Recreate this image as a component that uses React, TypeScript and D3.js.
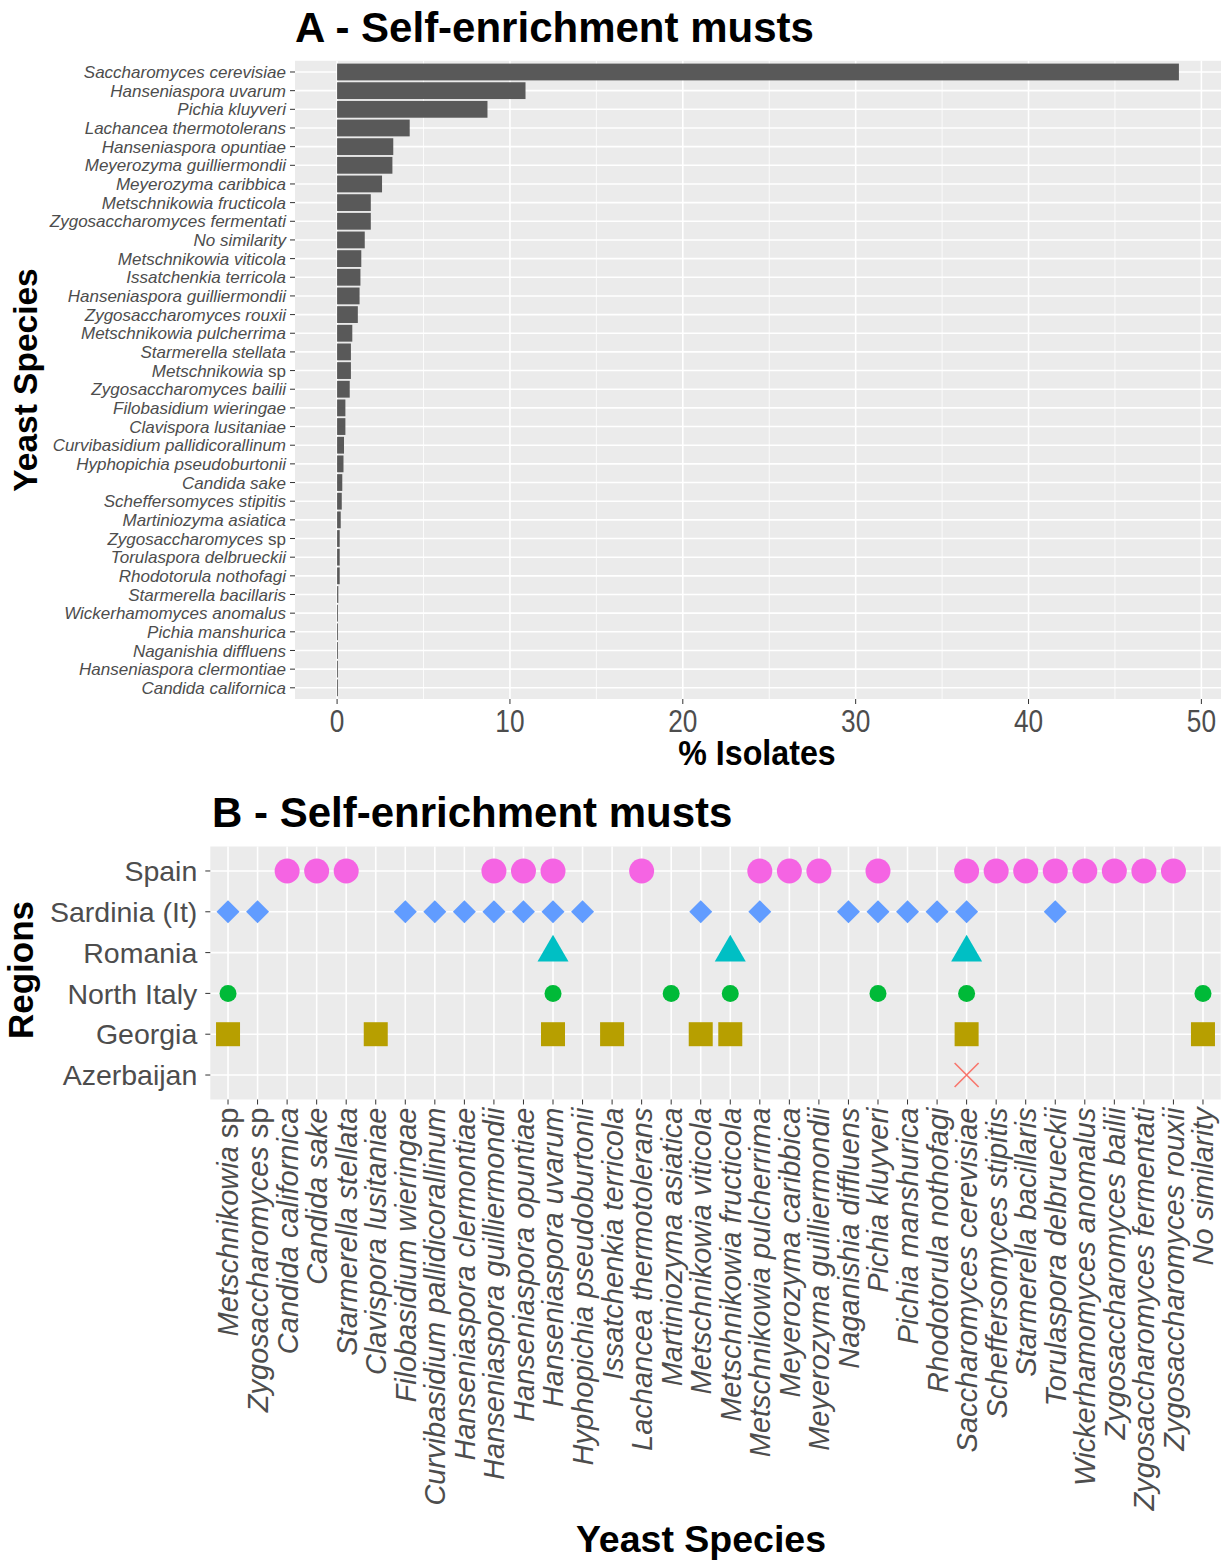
import * as d3 from "d3";

// Panel A — ordered as plotted, top to bottom
const speciesA = [
  "Saccharomyces cerevisiae", "Hanseniaspora uvarum", "Pichia kluyveri", "Lachancea thermotolerans",
  "Hanseniaspora opuntiae", "Meyerozyma guilliermondii", "Meyerozyma caribbica", "Metschnikowia fructicola",
  "Zygosaccharomyces fermentati", "No similarity", "Metschnikowia viticola", "Issatchenkia terricola",
  "Hanseniaspora guilliermondii", "Zygosaccharomyces rouxii", "Metschnikowia pulcherrima", "Starmerella stellata",
  "Metschnikowia sp", "Zygosaccharomyces bailii", "Filobasidium wieringae", "Clavispora lusitaniae",
  "Curvibasidium pallidicorallinum", "Hyphopichia pseudoburtonii", "Candida sake", "Scheffersomyces stipitis",
  "Martiniozyma asiatica", "Zygosaccharomyces sp", "Torulaspora delbrueckii", "Rhodotorula nothofagi",
  "Starmerella bacillaris", "Wickerhamomyces anomalus", "Pichia manshurica", "Naganishia diffluens",
  "Hanseniaspora clermontiae", "Candida californica",
];
const pctIsolates = [
  48.7, 10.9, 8.7, 4.2, 3.25, 3.2, 2.6, 1.95, 1.95, 1.6, 1.4, 1.35, 1.3, 1.2, 0.88, 0.8, 0.8,
  0.73, 0.48, 0.48, 0.4, 0.37, 0.3, 0.27, 0.21, 0.15, 0.15, 0.15, 0.07, 0.05, 0.05, 0.05, 0.05, 0.05,
];
const xTicksA = [0, 10, 20, 30, 40, 50];
const xMinorA = [5, 15, 25, 35, 45];

// Panel B — x order as plotted, left to right
const speciesB = [
  "Metschnikowia sp", "Zygosaccharomyces sp", "Candida californica", "Candida sake", "Starmerella stellata",
  "Clavispora lusitaniae", "Filobasidium wieringae", "Curvibasidium pallidicorallinum", "Hanseniaspora clermontiae",
  "Hanseniaspora guilliermondii", "Hanseniaspora opuntiae", "Hanseniaspora uvarum", "Hyphopichia pseudoburtonii",
  "Issatchenkia terricola", "Lachancea thermotolerans", "Martiniozyma asiatica", "Metschnikowia viticola",
  "Metschnikowia fructicola", "Metschnikowia pulcherrima", "Meyerozyma caribbica", "Meyerozyma guilliermondii",
  "Naganishia diffluens", "Pichia kluyveri", "Pichia manshurica", "Rhodotorula nothofagi",
  "Saccharomyces cerevisiae", "Scheffersomyces stipitis", "Starmerella bacillaris", "Torulaspora delbrueckii",
  "Wickerhamomyces anomalus", "Zygosaccharomyces bailii", "Zygosaccharomyces fermentati",
  "Zygosaccharomyces rouxii", "No similarity",
];
const regions = ["Spain", "Sardinia (It)", "Romania", "North Italy", "Georgia", "Azerbaijan"];

const spainSpecies = [
  "Candida californica", "Candida sake", "Starmerella stellata", "Hanseniaspora guilliermondii",
  "Hanseniaspora opuntiae", "Hanseniaspora uvarum", "Lachancea thermotolerans", "Metschnikowia pulcherrima",
  "Meyerozyma caribbica", "Meyerozyma guilliermondii", "Pichia kluyveri", "Saccharomyces cerevisiae",
  "Scheffersomyces stipitis", "Starmerella bacillaris", "Torulaspora delbrueckii", "Wickerhamomyces anomalus",
  "Zygosaccharomyces bailii", "Zygosaccharomyces fermentati", "Zygosaccharomyces rouxii",
];
const sardiniaSpecies = [
  "Metschnikowia sp", "Zygosaccharomyces sp", "Filobasidium wieringae", "Curvibasidium pallidicorallinum",
  "Hanseniaspora clermontiae", "Hanseniaspora guilliermondii", "Hanseniaspora opuntiae", "Hanseniaspora uvarum",
  "Hyphopichia pseudoburtonii", "Metschnikowia viticola", "Metschnikowia pulcherrima", "Naganishia diffluens",
  "Pichia kluyveri", "Pichia manshurica", "Rhodotorula nothofagi", "Saccharomyces cerevisiae",
  "Torulaspora delbrueckii",
];
const romaniaSpecies = ["Hanseniaspora uvarum", "Metschnikowia fructicola", "Saccharomyces cerevisiae"];
const northItalySpecies = [
  "Metschnikowia sp", "Hanseniaspora uvarum", "Martiniozyma asiatica", "Metschnikowia fructicola",
  "Pichia kluyveri", "Saccharomyces cerevisiae", "No similarity",
];
const georgiaSpecies = [
  "Metschnikowia sp", "Clavispora lusitaniae", "Hanseniaspora uvarum", "Issatchenkia terricola",
  "Metschnikowia viticola", "Metschnikowia fructicola", "Saccharomyces cerevisiae", "No similarity",
];
const azerbaijanSpecies = ["Saccharomyces cerevisiae"];

const regionSpecies = [spainSpecies, sardiniaSpecies, romaniaSpecies, northItalySpecies, georgiaSpecies, azerbaijanSpecies];
const regionColors = ["#F564E3", "#619CFF", "#00BFC4", "#00BA38", "#B79F00", "#F8766D"];

const FONT = "'Liberation Sans', Arial, Helvetica, sans-serif";
const TICK_TEXT = "#4d4d4d";
const TICK = "#333333";
const PANEL = "#EBEBEB";

function SpeciesText({ name, ...rest }: any) {
  const sp = name.endsWith(" sp");
  return (
    <text {...rest}>
      <tspan fontStyle="italic">{sp ? name.slice(0, -3) : name}</tspan>
      {sp ? <tspan> sp</tspan> : null}
    </text>
  );
}

function Marker({ kind, x, y, color }: any) {
  if (kind === 0) return <circle cx={x} cy={y} r={12.5} fill={color} />;
  if (kind === 1) {
    const h = 11.5;
    return <path d={`M${x},${y - h}L${x + h},${y}L${x},${y + h}L${x - h},${y}Z`} fill={color} />;
  }
  if (kind === 2) {
    const s = 15.5;
    const hh = s * Math.sqrt(3);
    return <path d={`M${x},${y - (2 * hh) / 3}L${x + s},${y + hh / 3}L${x - s},${y + hh / 3}Z`} fill={color} />;
  }
  if (kind === 3) return <circle cx={x} cy={y} r={8.5} fill={color} />;
  if (kind === 4) return <rect x={x - 12} y={y - 12} width={24} height={24} fill={color} />;
  const h = 12;
  return (
    <path d={`M${x - h},${y - h}L${x + h},${y + h}M${x - h},${y + h}L${x + h},${y - h}`} stroke={color} strokeWidth={1.6} fill="none" />
  );
}

export default function App() {
  // ---------- panel A ----------
  const aLeft = 295, aRight = 1221, aTop = 60.8, aBottom = 699;
  const maxA = d3.max(pctIsolates) as number;
  const xA = d3.scaleLinear().domain([-0.05 * maxA, maxA * 1.05]).range([aLeft, aRight]);
  const yA = d3.scalePoint().domain(speciesA).range([aTop, aBottom]).padding(0.6);
  const barH = yA.step() * 0.9;

  // ---------- panel B ----------
  const bLeft = 210.3, bRight = 1220.7, bTop = 846.5, bBottom = 1099.5;
  const xB = d3.scalePoint().domain(speciesB).range([bLeft, bRight]).padding(0.6);
  const yB = d3.scalePoint().domain(regions).range([bTop, bBottom]).padding(0.6);

  return (
    <svg width={1228} height={1564} style={{ position: "absolute", left: 0, top: 0, background: "#fff" }} fontFamily={FONT}>
      {/* ===== A ===== */}
      <text x={295} y={42} fontSize={42} fontWeight="bold" fill="#000">A - Self-enrichment musts</text>
      <rect x={aLeft} y={aTop} width={aRight - aLeft} height={aBottom - aTop} fill={PANEL} />
      {xMinorA.map((t) => (
        <line key={"mn" + t} x1={xA(t)} x2={xA(t)} y1={aTop} y2={aBottom} stroke="#fff" strokeWidth={0.8} />
      ))}
      {xTicksA.map((t) => (
        <line key={"mj" + t} x1={xA(t)} x2={xA(t)} y1={aTop} y2={aBottom} stroke="#fff" strokeWidth={1.6} />
      ))}
      {speciesA.map((s) => (
        <line key={"h" + s} x1={aLeft} x2={aRight} y1={yA(s)} y2={yA(s)} stroke="#fff" strokeWidth={1.6} />
      ))}
      {speciesA.map((s, i) => (
        <rect key={"b" + s} x={xA(0)} y={(yA(s) as number) - barH / 2} width={Math.max(0.8, xA(pctIsolates[i]) - xA(0))} height={barH} fill="#595959" />
      ))}
      {speciesA.map((s) => (
        <g key={"yt" + s}>
          <line x1={aLeft - 5} x2={aLeft} y1={yA(s)} y2={yA(s)} stroke={TICK} strokeWidth={1} />
          <SpeciesText name={s} x={aLeft - 9} y={yA(s)} dy="0.36em" textAnchor="end" fontSize={17} fill={TICK_TEXT} />
        </g>
      ))}
      {xTicksA.map((t) => (
        <g key={"xt" + t}>
          <line x1={xA(t)} x2={xA(t)} y1={aBottom} y2={aBottom + 5} stroke={TICK} strokeWidth={1} />
          <text transform={`translate(${xA(t)},732) scale(0.82,1)`} textAnchor="middle" fontSize={32} fill={TICK_TEXT}>{t}</text>
        </g>
      ))}
      <text transform={`translate(757,765) scale(0.92,1)`} textAnchor="middle" fontSize={35} fontWeight="bold" fill="#000">% Isolates</text>
      <text transform={`translate(37,380) rotate(-90)`} textAnchor="middle" fontSize={33.5} fontWeight="bold" fill="#000">Yeast Species</text>

      {/* ===== B ===== */}
      <text x={212} y={827} fontSize={42} fontWeight="bold" fill="#000">B - Self-enrichment musts</text>
      <rect x={bLeft} y={bTop} width={bRight - bLeft} height={bBottom - bTop} fill={PANEL} />
      {speciesB.map((s) => (
        <line key={"vg" + s} x1={xB(s)} x2={xB(s)} y1={bTop} y2={bBottom} stroke="#fff" strokeWidth={1.6} />
      ))}
      {regions.map((r) => (
        <line key={"hg" + r} x1={bLeft} x2={bRight} y1={yB(r)} y2={yB(r)} stroke="#fff" strokeWidth={1.6} />
      ))}
      {regions.map((r, ri) =>
        regionSpecies[ri].map((s) => (
          <Marker key={r + s} kind={ri} x={xB(s)} y={yB(r)} color={regionColors[ri]} />
        ))
      )}
      {regions.map((r) => (
        <g key={"yr" + r}>
          <line x1={bLeft - 5} x2={bLeft} y1={yB(r)} y2={yB(r)} stroke={TICK} strokeWidth={1} />
          <text x={bLeft - 13} y={yB(r)} dy="0.36em" textAnchor="end" fontSize={28.5} fill={TICK_TEXT}>{r}</text>
        </g>
      ))}
      {speciesB.map((s) => (
        <g key={"xs" + s}>
          <line x1={xB(s)} x2={xB(s)} y1={bBottom} y2={bBottom + 5} stroke={TICK} strokeWidth={1} />
          <SpeciesText name={s} transform={`translate(${xB(s)},${bBottom + 8}) rotate(-90)`} dy="0.36em" textAnchor="end" fontSize={29} fill={TICK_TEXT} />
        </g>
      ))}
      <text x={701} y={1552} textAnchor="middle" fontSize={37.5} fontWeight="bold" fill="#000">Yeast Species</text>
      <text transform={`translate(33,970) rotate(-90)`} textAnchor="middle" fontSize={35} fontWeight="bold" fill="#000">Regions</text>
    </svg>
  );
}
